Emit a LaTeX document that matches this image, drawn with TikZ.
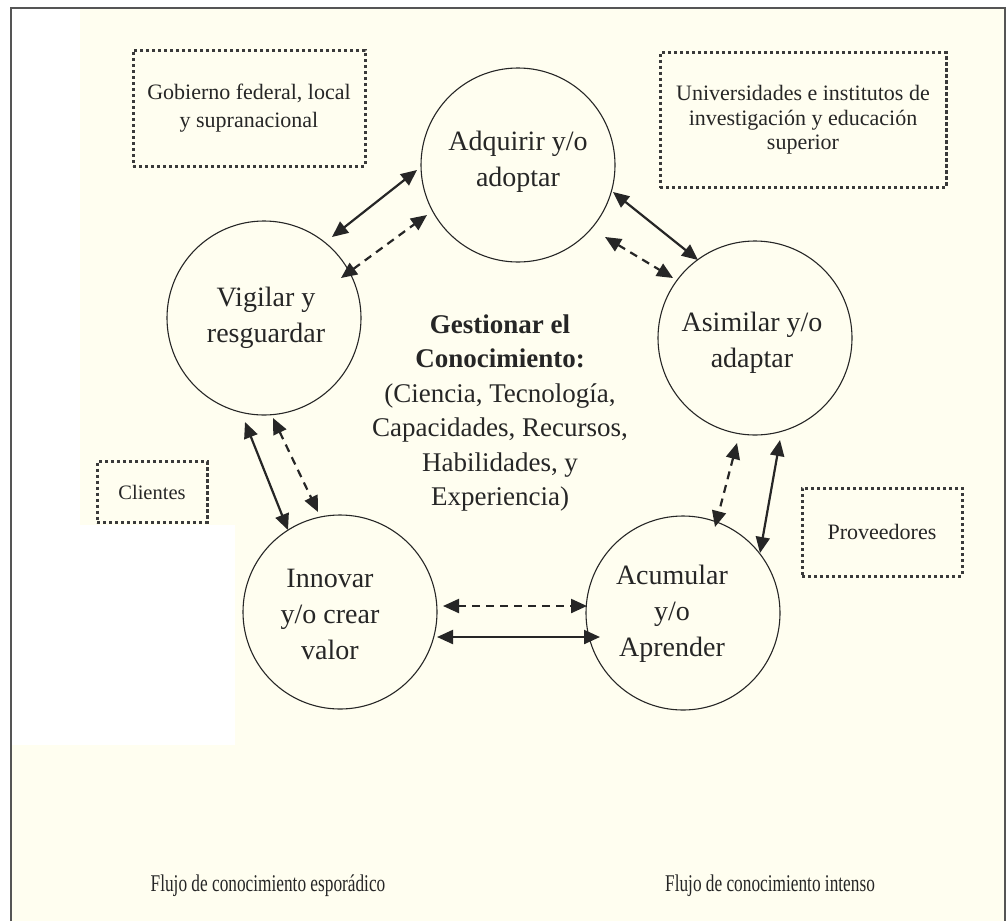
\documentclass[tikz,border=0pt]{standalone}
\usepackage{fontspec}
\setmainfont{Liberation Serif}
\newfontfamily\legendfont[FakeStretch=0.72]{Liberation Serif}
\usetikzlibrary{arrows.meta,calc}

\definecolor{ink}{HTML}{262626}
\definecolor{paper}{HTML}{FFFEF0}
\definecolor{dotc}{HTML}{3A3A3A}
\definecolor{framec}{HTML}{555555}

\begin{document}
\begin{tikzpicture}[x=1pt,y=-1pt,
  stage/.style={circle, draw=ink, line width=1.1pt, minimum size=194pt, inner sep=0pt},
  stagetext/.style={align=center, text=ink, inner sep=0pt, font=\fontsize{28}{36}\selectfont},
  actor/.style={draw=dotc, line width=3pt, dash pattern=on 3.4pt off 2.6pt, align=center,
                text=ink, inner sep=0pt, font=\fontsize{22}{27}\selectfont},
  strong/.style={draw=ink, line width=2.2pt,
                 {Triangle[length=16pt,width=14pt]}-{Triangle[length=16pt,width=14pt]}},
  weak/.style={strong, dash pattern=on 8pt off 6pt},
  legend/.style={text=ink, inner sep=0pt, font=\legendfont\fontsize{24}{28}\selectfont}
]
% page, tinted sheet and frame
\useasboundingbox (0,0) rectangle (1008,921);
\fill[white] (0,0) rectangle (1008,921);
\fill[paper] (11,8) rectangle (1005,921);
\fill[white] (12,9) rectangle (80,745);
\fill[white] (12,525) rectangle (235,745);
\draw[framec, line width=1.6pt] (11,921) -- (11,8) -- (1005,8) -- (1005,921);

% the five stages of the cycle
\node[stage] (adq) at (518,165) {};
\node[stage] (vig) at (264,318) {};
\node[stage] (asi) at (755,338) {};
\node[stage] (inn) at (340,612) {};
\node[stage] (acu) at (683,613) {};

\node[stagetext] (adq-t) at (518,162) {Adquirir y/o\\adoptar};
\node[stagetext] (vig-t) at (266,318) {Vigilar y\\resguardar};
\node[stagetext] (asi-t) at (752,343) {Asimilar y/o\\adaptar};
\node[stagetext] (inn-t) at (330,614) {Innovar\\y/o crear\\valor};
\node[stagetext] (acu-t) at (672,614) {Acumular\\y/o\\Aprender};

% centre text
\node[align=center, text=ink, inner sep=0pt, font=\fontsize{27}{34.5}\selectfont] (core) at (500,413)
  {\textbf{Gestionar el}\\\textbf{Conocimiento:}\\(Ciencia, Tecnología,\\Capacidades, Recursos,\\Habilidades, y\\Experiencia)};

% external actors
\node[actor, minimum width=232pt, minimum height=116pt] (gob) at (249,108)
  {Gobierno federal, local\\[1pt]y supranacional};
\node[actor, minimum width=286pt, minimum height=135pt, font=\fontsize{22}{24.5}\selectfont] (uni) at (803,120)
  {Universidades e institutos de\\investigación y educación\\superior};
\node[actor, minimum width=110pt, minimum height=61pt, font=\fontsize{20.5}{25}\selectfont] (cli) at (152,492) {Clientes};
\node[actor, minimum width=160pt, minimum height=88pt] (pro) at (882,532) {Proveedores};

% knowledge flows: solid = intense, dashed = sporadic
\draw[strong] ($(vig)+(68,-81)$) -- ($(adq)+(-101,5)$);
\draw[weak]   ($(vig)+(77,-40)$) -- ($(adq)+(-91,50)$);
\draw[strong] ($(adq)+(95,27)$) -- ($(asi)+(-57,-78)$);
\draw[weak]   ($(adq)+(87,72)$) -- ($(asi)+(-82,-60)$);
\draw[strong] ($(vig)+(-19,104)$) -- ($(inn)+(-52,-82)$);
\draw[weak]   ($(vig)+(9,100)$) -- ($(inn)+(-22,-100)$);
\draw[weak]   ($(asi)+(-18,105)$) -- ($(acu)+(32,-86)$);
\draw[strong] ($(asi)+(25,102)$) -- ($(acu)+(77,-60)$);
\draw[weak]   ($(inn)+(103,-6)$) -- ($(acu)+(-96,-7)$);
\draw[strong] ($(inn)+(97,25)$) -- ($(acu)+(-83,24)$);

% legend captions
\node[legend] (leg-s) at (268,886) {Flujo de conocimiento esporádico};
\node[legend] (leg-i) at (770,886) {Flujo de conocimiento intenso};
\end{tikzpicture}
\end{document}
